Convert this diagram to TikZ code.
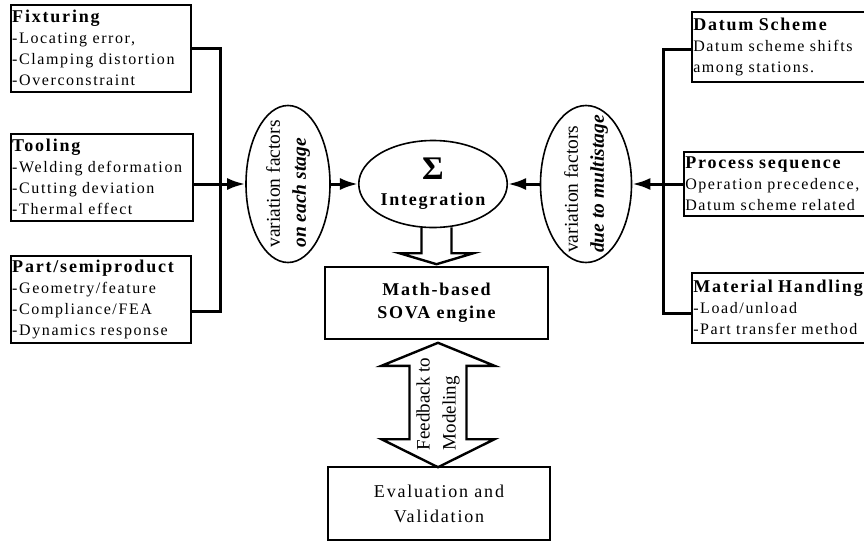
\documentclass[tikz,border=0pt]{standalone}
\usepackage{fontspec}
\setmainfont{Liberation Serif}
\newfontfamily\spaced[LetterSpace=10]{Liberation Serif}
\usetikzlibrary{arrows.meta,calc,shapes.geometric}

\newcommand{\boxtitle}[1]{{\bfseries\fontsize{18}{21}\selectfont #1}}

\tikzset{
  factorbox/.style={draw, line width=1.5pt, anchor=north west, align=left,
    inner sep=1.5pt, font=\spaced\fontsize{16}{21}\selectfont},
  varellipse/.style={draw, ellipse, line width=1.6pt, rotate=90,
    minimum width=157pt, minimum height=84pt, inner xsep=-16pt, inner ysep=0pt,
    align=left, font=\fontsize{19.5}{26}\selectfont},
  enginebox/.style={draw, line width=1.6pt, minimum width=223pt,
    minimum height=72pt, align=center},
  bus/.style={line width=3pt},
  feed/.style={bus, -{Latex[length=18pt,width=12pt]}},
  hollow/.style={draw, line width=2.4pt, line join=miter},
}

\begin{document}
\begin{tikzpicture}[x=1pt, y=-1pt]

	\useasboundingbox (0,0) rectangle (864,541);

	% Variation sources on each stage
	
	\node[factorbox, text width=177pt, minimum height=87pt] (fix) at (10,4)
		{\boxtitle{Fixturing}\\-Locating error,\\-Clamping distortion\\-Overconstraint};
	\node[factorbox, text width=179pt, minimum height=87pt] (tool) at (10,133)
		{\boxtitle{Tooling}\\-Welding deformation\\-Cutting deviation\\-Thermal effect};
	\node[factorbox, text width=177pt, minimum height=87pt] (part) at (10,255)
		{\boxtitle{Part/semiproduct}\\-Geometry/feature\\-Compliance/FEA\\-Dynamics response};
		
	% Variation sources due to multistage
	
	\node[factorbox, text width=200pt, minimum height=70pt] (datum) at (691,11)
		{\boxtitle{Datum Scheme}\\Datum scheme shifts\\among stations.};
	\node[factorbox, text width=210pt, minimum height=64pt] (proc) at (683,151)
		{\boxtitle{Process sequence}\\Operation precedence,\\Datum scheme related};
	\node[factorbox, text width=200pt, minimum height=70pt] (mat) at (691,272)
		{\boxtitle{Material Handling}\\-Load/unload\\-Part transfer method};
		
	% Ellipses and engine
	
	\node[varellipse] (lvar) at (288,184)
		{variation factors\\\textbf{\textit{on each stage}}};
	\node[varellipse, minimum height=91pt] (rvar) at (586,184)
		{variation factors\\\textbf{\textit{due to multistage}}};
	\node[draw, ellipse, line width=1.6pt, minimum width=146pt, minimum height=87pt,
		inner sep=0pt, align=center, font=\spaced\bfseries\fontsize{18}{26}\selectfont] (integ) at (433,184)
		{{\fontsize{33}{26}\selectfont Σ}\\Integration};
	\node[enginebox, font=\spaced\bfseries\fontsize{18}{23}\selectfont] (engine) at (436.5,303)
		{Math-based\\SOVA engine};
	\node[enginebox, minimum width=222pt, minimum height=73pt,
		font=\spaced\fontsize{18}{25}\selectfont] (eval) at (439,503.5)
		{Evaluation and\\Validation};
		
	% Bus lines and arrows
	
	\coordinate (busL) at (220,0);
	\coordinate (busR) at (663,0);
	\coordinate (partjoin) at ([yshift=-12.5pt]part.east);
	\coordinate (datumjoin) at ([yshift=-3pt]datum.west);
	\coordinate (matjoin) at ([yshift=-6pt]mat.west);
	
	\draw[bus] (fix.east) -| (partjoin -| busL) -- (partjoin);
	\draw[feed] (tool.east |- lvar) -- (lvar);
	\draw[feed] (lvar) -- (integ);
	
	\draw[bus] (datumjoin) -| (matjoin -| busR) -- (matjoin);
	\draw[feed] (proc.west |- rvar) -- (rvar);
	\draw[feed] (rvar) -- (integ);
	
	% Hollow arrows
	
	\draw[hollow] let \p1 = (integ.south), \p2 = (engine.north) in
		(\x2-15pt,\y1+1pt) -- (\x2-15pt,\y2+13pt) -- (\x2-37pt,\y2+13pt) -- (\x2,\y2+2pt)
		-- (\x2+37pt,\y2+13pt) -- (\x2+15pt,\y2+13pt) -- (\x2+15pt,\y1+1pt);
		
	\draw[hollow] let \p1 = (engine.south), \p2 = (eval.north) in
		(\x1+1.5pt,\y1-3pt) -- (\x1+58pt,\y1-26pt) -- (\x1+30pt,\y1-26pt) -- (\x1+30pt,\y2+27pt)
		-- (\x1+58pt,\y2+27pt) -- (\x1+1.5pt,\y2-1pt) -- (\x1-55pt,\y2+27pt) -- (\x1-27pt,\y2+27pt)
		-- (\x1-27pt,\y1-26pt) -- (\x1-55pt,\y1-26pt) -- cycle;
		
	\node[rotate=90, align=left, font=\fontsize{19}{26}\selectfont] (fbtext) at (438,404)
		{Feedback to\\Modeling};
	
\end{tikzpicture}
\end{document}
